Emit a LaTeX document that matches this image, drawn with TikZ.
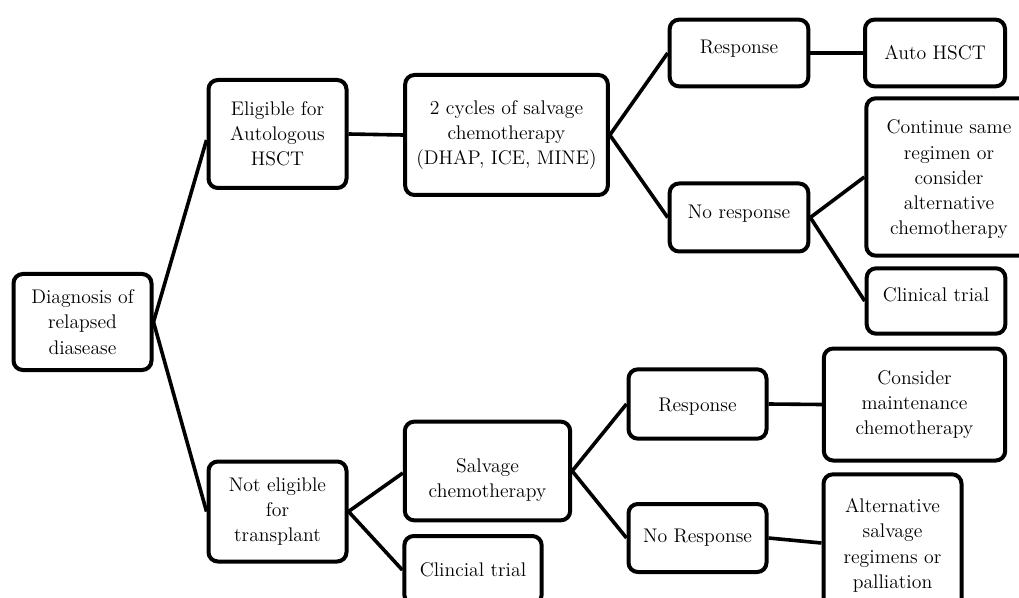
\documentclass[tikz,border=0pt]{standalone}
\usepackage{fontspec}
\begin{document}
\begin{tikzpicture}[x=0.75pt,y=-0.75pt,
  box/.style={draw, line width=3pt, rounded corners=7pt, align=center, inner sep=0pt,
    font=\fontsize{14.8}{18.9}\selectfont, fill=white},
  link/.style={line width=2.7pt}]
\useasboundingbox (0,0) rectangle (1019,598);
\clip (0,0) rectangle (1019,598);
% nodes
\node[box, minimum width=103.5pt, minimum height=72pt] (diag) at (82.5,322) {Diagnosis of\\relapsed\\diasease};
\node[box, minimum width=103.5pt, minimum height=81pt] (elig) at (277.5,134) {Eligible for\\Autologous\\HSCT};
\node[box, minimum width=152pt, minimum height=90pt] (cyc) at (506.5,135) {2 cycles of salvage\\chemotherapy\\(DHAP, ICE, MINE)};
\node[box, minimum width=104pt, minimum height=50pt] (resp1) at (739,53) {\raisebox{9pt}{Response}};
\node[box, minimum width=105pt, minimum height=50pt] (auto) at (935,53) {Auto HSCT};
\node[box, minimum width=104pt, minimum height=51pt] (noresp1) at (739,217.5) {\raisebox{9pt}{No response}};
\node[box, minimum width=124pt, minimum height=118pt] (cont) at (949,177) {\rule{0pt}{14pt}Continue same\\regimen or\\consider\\alternative\\chemotherapy};
\node[box, minimum width=104pt, minimum height=49pt] (clin1) at (936,301) {\raisebox{10pt}{Clinical trial}};
\node[box, minimum width=103.5pt, minimum height=75pt] (notel) at (277.5,511.5) {Not eligible\\for\\transplant};
\node[box, minimum width=124pt, minimum height=74pt] (salv) at (487.5,471) {\rule{0pt}{24pt}Salvage\\chemotherapy};
\node[box, minimum width=103pt, minimum height=51pt] (clin2) at (473,570) {Clincial trial};
\node[box, minimum width=103.5pt, minimum height=52pt] (resp2) at (697.5,404) {\rule{0pt}{14pt}Response};
\node[box, minimum width=136pt, minimum height=84pt] (cons) at (914.5,404.5) {Consider\\maintenance\\chemotherapy};
\node[box, minimum width=103.5pt, minimum height=51pt] (noresp2) at (697.5,538) {No Response};
\node[box, minimum width=103.5pt, minimum height=103pt] (alt) at (892.5,543) {\rule{0pt}{14pt}Alternative\\salvage\\regimens or\\palliation};
% connectors
\draw[link] (diag.east) -- ([yshift=-4.5pt]elig.west);
\draw[link] (diag.east) -- (notel.west);
\draw[link] (elig.east) -- (cyc.west);
\draw[link] (cyc.east) -- (resp1.west);
\draw[link] (cyc.east) -- (noresp1.west);
\draw[link] (resp1.east) -- (auto.west);
\draw[link] (noresp1.east) -- (cont.west);
\draw[link] (noresp1.east) -- (clin1.west);
\draw[link] (notel.east) -- ([yshift=-1.5pt]salv.west);
\draw[link] (notel.east) -- (clin2.west);
\draw[link] (salv.east) -- (resp2.west);
\draw[link] (salv.east) -- (noresp2.west);
\draw[link] (resp2.east) -- (cons.west);
\draw[link] (noresp2.east) -- (alt.west);
\end{tikzpicture}
\end{document}
